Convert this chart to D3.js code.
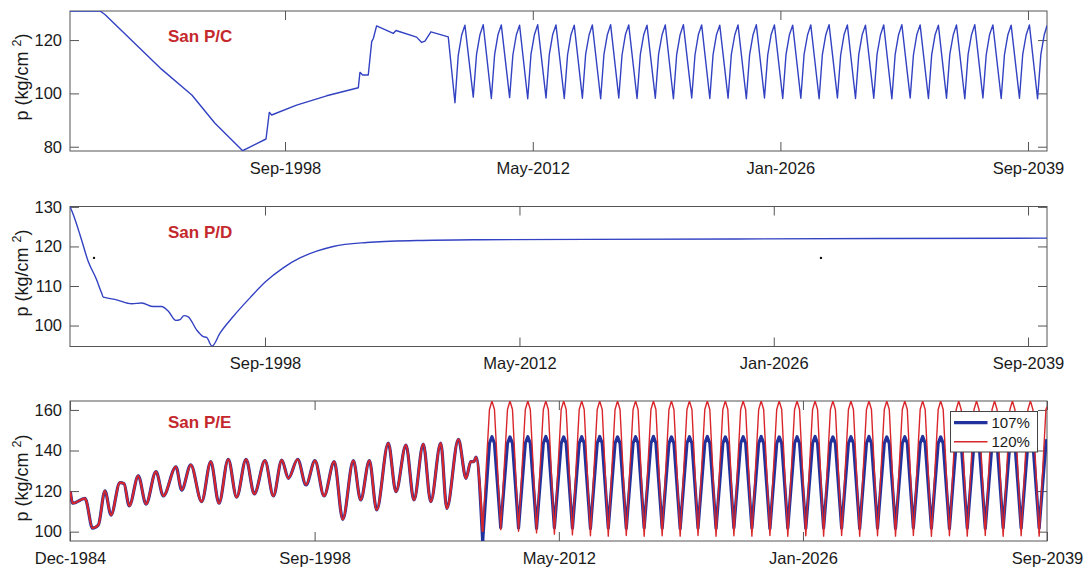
<!DOCTYPE html>
<html>
<head>
<meta charset="utf-8">
<script src="https://cdn.jsdelivr.net/npm/d3@7"></script>
<style>
  body { margin: 0; background: #fff; }
  svg { display: block; }
  text { font-family: "Liberation Sans", Arial, Helvetica, sans-serif; }
</style>
</head>
<body>
<svg id="chart" width="1086" height="569"></svg>
<script>
// ---- data (dates as decimal years, pressure in kg/cm2) ----
const tickYears = [1984.96, 1998.67, 2012.36, 2026.04, 2039.72];
const panelTitles = ["San P/C", "San P/D", "San P/E"];
const legendLabels = ["107%", "120%"];
const yTicksC = [80, 100, 120];
const yTicksD = [100, 110, 120, 130];
const yTicksE = [100, 120, 140, 160];

// San P/C
const datesC = [
  1986.79, 1988.45, 1988.72, 1991.86, 1993.52, 1994.80, 1996.33,
  1997.62, 1997.80, 1997.93, 1999.31, 2000.97, 2002.72,
  2002.81, 2002.96, 2003.27, 2003.46, 2003.55, 2003.73,
  2004.65, 2004.80, 2005.94, 2006.22, 2006.40, 2006.73, 2007.69,
  2008.06, 2008.24, 2008.43, 2008.61,
  2009.07, 2009.25, 2009.44, 2009.62,
  2010.07, 2010.25, 2010.44, 2010.62,
  2011.08, 2011.26, 2011.45, 2011.63,
  2012.08, 2012.26, 2012.45, 2012.63,
  2013.09, 2013.27, 2013.46, 2013.64,
  2014.10, 2014.28, 2014.47, 2014.65,
  2015.10, 2015.28, 2015.47, 2015.65,
  2016.11, 2016.29, 2016.48, 2016.66,
  2017.11, 2017.29, 2017.48, 2017.66,
  2018.12, 2018.30, 2018.49, 2018.67,
  2019.13, 2019.31, 2019.50, 2019.68,
  2020.13, 2020.31, 2020.50, 2020.68,
  2021.14, 2021.32, 2021.51, 2021.69,
  2022.14, 2022.32, 2022.51, 2022.69,
  2023.15, 2023.33, 2023.52, 2023.70,
  2024.16, 2024.34, 2024.53, 2024.71,
  2025.16, 2025.34, 2025.53, 2025.71,
  2026.17, 2026.35, 2026.54, 2026.72,
  2027.17, 2027.35, 2027.54, 2027.72,
  2028.18, 2028.36, 2028.55, 2028.73,
  2029.19, 2029.37, 2029.56, 2029.74,
  2030.19, 2030.37, 2030.56, 2030.74,
  2031.20, 2031.38, 2031.57, 2031.75,
  2032.20, 2032.38, 2032.57, 2032.75,
  2033.21, 2033.39, 2033.58, 2033.76,
  2034.22, 2034.40, 2034.59, 2034.77,
  2035.22, 2035.40, 2035.59, 2035.77,
  2036.23, 2036.41, 2036.60, 2036.78,
  2037.23, 2037.41, 2037.60, 2037.78,
  2038.24, 2038.42, 2038.61, 2038.79,
  2039.25, 2039.43, 2039.62, 2039.80,
  2040.25, 2040.43, 2040.62, 2040.77
];
const valuesC = [
  130.9, 130.9, 129.6, 109.0, 99.4, 88.8, 78.5,
  82.9, 92.9, 91.9, 95.6, 99.1, 102.1,
  107.9, 106.9, 106.9, 119.4, 120.6, 125.3,
  122.5, 123.6, 121.1, 119.1, 119.6, 123.1, 121.2,
  96.5, 114.2, 121.9, 125.6,
  98.6, 114.6, 122.0, 125.8,
  98.1, 114.5, 122.1, 125.7,
  98.4, 114.4, 121.9, 125.6,
  98.0, 114.6, 122.0, 125.8,
  98.3, 114.5, 122.1, 125.7,
  98.1, 114.4, 122.0, 125.6,
  98.2, 114.6, 121.9, 125.7,
  98.0, 114.5, 122.0, 125.8,
  98.3, 114.4, 122.1, 125.7,
  98.1, 114.5, 122.0, 125.6,
  98.2, 114.6, 121.9, 125.7,
  98.0, 114.5, 122.0, 125.8,
  98.3, 114.4, 122.1, 125.7,
  98.1, 114.5, 122.0, 125.6,
  98.2, 114.6, 121.9, 125.7,
  98.0, 114.5, 122.0, 125.8,
  98.3, 114.4, 122.1, 125.7,
  98.1, 114.5, 122.0, 125.6,
  98.2, 114.6, 121.9, 125.7,
  98.0, 114.5, 122.0, 125.8,
  98.3, 114.4, 122.1, 125.7,
  98.1, 114.5, 122.0, 125.6,
  98.2, 114.6, 121.9, 125.7,
  98.0, 114.5, 122.0, 125.8,
  98.3, 114.4, 122.1, 125.7,
  98.1, 114.5, 122.0, 125.6,
  98.2, 114.6, 121.9, 125.7,
  98.0, 114.5, 122.0, 125.8,
  98.3, 114.4, 122.1, 125.7,
  98.1, 114.5, 122.0, 125.6,
  98.2, 114.6, 121.9, 125.7,
  98.0, 114.5, 122.0, 125.5
];

// San P/D
const datesD = [
  1988.18, 1988.36, 1988.72, 1989.16, 1989.61, 1989.88, 1989.97,
  1990.15, 1990.69, 1991.50, 1992.04, 1992.66, 1993.11, 1993.47,
  1993.87, 1994.10, 1994.31, 1994.54, 1994.99, 1995.35, 1995.53,
  1995.82, 1996.25, 1996.96, 1997.86, 1998.68, 1999.65, 2000.55,
  2001.45, 2002.34, 2004.14, 2006.83, 2010.23, 2016.00, 2024.00,
  2032.00, 2040.74
];
const valuesD = [
  130.1, 128.0, 122.9, 116.2, 111.6, 108.2, 107.2,
  107.0, 106.5, 105.5, 105.7, 104.8, 104.8, 103.6,
  101.3, 101.5, 102.5, 102.2, 98.9, 97.2, 97.0,
  94.8, 98.1, 102.3, 107.0, 111.0, 114.6, 117.1,
  118.8, 120.0, 121.0, 121.5, 121.7, 121.8, 121.9,
  122.0, 122.1
];
const markerDatesD = [1989.47, 2028.58];
const markerValuesD = [117.1, 117.1];

// San P/E: common history, then the two scenarios
const historyDatesE = [
  1984.98, 1985.11, 1985.80, 1985.86, 1986.22, 1986.55, 1986.92, 1987.26,
  1987.76, 1987.99, 1988.28, 1988.79, 1989.22, 1989.78, 1990.19, 1990.90,
  1991.22, 1991.73, 1992.34, 1992.85, 1993.31, 1993.83, 1994.30, 1994.83,
  1995.29, 1995.89, 1996.36, 1996.83, 1997.20, 1997.72, 1998.19, 1998.69,
  1999.20, 1999.77, 2000.25, 2000.84, 2001.25, 2001.74, 2002.15, 2002.80,
  2003.23, 2003.79, 2004.24, 2004.76, 2005.18, 2005.74, 2006.08, 2006.73,
  2007.16, 2007.42, 2007.60, 2007.72
];
const historyValuesE = [
  119.7, 114.0, 116.4, 115.5, 101.7, 103.3, 120.1, 108.2,
  124.2, 123.7, 112.7, 127.5, 113.6, 129.6, 117.6, 132.0,
  120.5, 132.9, 114.8, 134.5, 114.0, 135.7, 117.0, 135.7,
  118.6, 135.0, 117.6, 135.3, 126.3, 135.7, 123.0, 135.0,
  117.6, 134.5, 106.1, 135.0, 115.6, 135.0, 110.7, 143.6,
  119.7, 142.7, 115.6, 143.2, 114.8, 143.6, 111.5, 145.5,
  126.3, 134.5, 134.5, 136.8
];
const projDatesE = [
  2008.09, 2008.47, 2008.61, 2008.75,
  2009.10, 2009.48, 2009.62, 2009.76,
  2010.10, 2010.48, 2010.62, 2010.76,
  2011.11, 2011.49, 2011.63, 2011.77,
  2012.11, 2012.49, 2012.63, 2012.77,
  2013.12, 2013.50, 2013.64, 2013.78,
  2014.13, 2014.51, 2014.65, 2014.79,
  2015.13, 2015.51, 2015.65, 2015.79,
  2016.14, 2016.52, 2016.66, 2016.80,
  2017.14, 2017.52, 2017.66, 2017.80,
  2018.15, 2018.53, 2018.67, 2018.81,
  2019.16, 2019.54, 2019.68, 2019.82,
  2020.16, 2020.54, 2020.68, 2020.82,
  2021.17, 2021.55, 2021.69, 2021.83,
  2022.17, 2022.55, 2022.69, 2022.83,
  2023.18, 2023.56, 2023.70, 2023.84,
  2024.19, 2024.57, 2024.71, 2024.85,
  2025.19, 2025.57, 2025.71, 2025.85,
  2026.20, 2026.58, 2026.72, 2026.86,
  2027.20, 2027.58, 2027.72, 2027.86,
  2028.21, 2028.59, 2028.73, 2028.87,
  2029.22, 2029.60, 2029.74, 2029.88,
  2030.22, 2030.60, 2030.74, 2030.88,
  2031.23, 2031.61, 2031.75, 2031.89,
  2032.23, 2032.61, 2032.75, 2032.89,
  2033.24, 2033.62, 2033.76, 2033.90,
  2034.25, 2034.63, 2034.77, 2034.91,
  2035.25, 2035.63, 2035.77, 2035.91,
  2036.26, 2036.64, 2036.78, 2036.92,
  2037.26, 2037.64, 2037.78, 2037.92,
  2038.27, 2038.65, 2038.79, 2038.93,
  2039.28, 2039.66, 2039.72
];
const projValues107 = [
  95.4, 143.6, 146.8, 143.6,
  102.0, 143.5, 146.7, 143.5,
  101.8, 143.6, 146.8, 143.6,
  101.6, 143.6, 146.9, 143.6,
  101.9, 143.5, 146.7, 143.5,
  101.7, 143.6, 146.8, 143.6,
  101.5, 143.6, 146.9, 143.6,
  101.8, 143.5, 146.7, 143.5,
  101.6, 143.6, 146.8, 143.6,
  101.9, 143.6, 146.9, 143.6,
  101.7, 143.5, 146.7, 143.5,
  101.5, 143.6, 146.8, 143.6,
  101.8, 143.6, 146.9, 143.6,
  101.6, 143.5, 146.7, 143.5,
  101.9, 143.6, 146.8, 143.6,
  101.7, 143.6, 146.9, 143.6,
  101.5, 143.5, 146.7, 143.5,
  101.8, 143.6, 146.8, 143.6,
  101.6, 143.6, 146.9, 143.6,
  101.9, 143.5, 146.7, 143.5,
  101.7, 143.6, 146.8, 143.6,
  101.5, 143.6, 146.9, 143.6,
  101.8, 143.5, 146.7, 143.5,
  101.6, 143.6, 146.8, 143.6,
  101.9, 143.6, 146.9, 143.6,
  101.7, 143.5, 146.7, 143.5,
  101.5, 143.6, 146.8, 143.6,
  101.8, 143.6, 146.9, 143.6,
  101.6, 143.5, 146.7, 143.5,
  101.9, 143.6, 146.8, 143.6,
  101.7, 143.6, 146.9, 143.6,
  101.8, 143.6, 145.6
];
const projValues120 = [
  100.0, 160.2, 164.4, 160.2,
  101.0, 160.2, 164.4, 160.2,
  100.2, 160.2, 164.4, 160.2,
  99.4, 160.2, 164.4, 160.2,
  98.8, 160.2, 164.4, 160.2,
  98.4, 160.2, 164.4, 160.2,
  98.0, 160.2, 164.4, 160.2,
  97.8, 160.2, 164.4, 160.2,
  98.1, 160.2, 164.4, 160.2,
  97.7, 160.2, 164.4, 160.2,
  98.0, 160.2, 164.4, 160.2,
  97.8, 160.2, 164.4, 160.2,
  98.1, 160.2, 164.4, 160.2,
  97.7, 160.2, 164.4, 160.2,
  98.0, 160.2, 164.4, 160.2,
  97.8, 160.2, 164.4, 160.2,
  98.1, 160.2, 164.4, 160.2,
  97.7, 160.2, 164.4, 160.2,
  98.0, 160.2, 164.4, 160.2,
  97.8, 160.2, 164.4, 160.2,
  98.1, 160.2, 164.4, 160.2,
  97.7, 160.2, 164.4, 160.2,
  98.0, 160.2, 164.4, 160.2,
  97.8, 160.2, 164.4, 160.2,
  98.1, 160.2, 164.4, 160.2,
  97.7, 160.2, 164.4, 160.2,
  98.0, 160.2, 164.4, 160.2,
  97.8, 160.2, 164.4, 160.2,
  98.1, 160.2, 164.4, 160.2,
  97.7, 160.2, 164.4, 160.2,
  98.0, 160.2, 164.4, 160.2,
  97.8, 160.2, 161.5
];

// ---- helpers ----
function toDate(y) {
  const yr = Math.floor(y);
  const a = Date.UTC(yr, 0, 1), b = Date.UTC(yr + 1, 0, 1);
  return new Date(a + (y - yr) * (b - a));
}
const zip = (ds, vs) => ds.map((d, i) => ({ date: toDate(d), value: vs[i] }));

// ---- layout ----
const LEFT = 70, RIGHT = 1047, TICK = 9;
const colors = {
  line: "#3242c2", s107: "#22329c", s120: "#d9262b",
  title: "#c4282c", axis: "#555", text: "#1a1a1a"
};

const panels = [
  { top: 11, bottom: 151, xDomain: [1986.79, 2040.77], yDomain: [78.4, 130.9],
    yTicks: yTicksC, title: panelTitles[0], titleY: 42, labelY: 77 },
  { top: 206.5, bottom: 346.5, xDomain: [1988.18, 2040.74], yDomain: [94.7, 130.1],
    yTicks: yTicksD, title: panelTitles[1], titleY: 237.5, labelY: 273 },
  { top: 401, bottom: 541, xDomain: [1984.96, 2039.72], yDomain: [95.4, 164.4],
    yTicks: yTicksE, title: panelTitles[2], titleY: 428, labelY: 478 }
];

const svg = d3.select("#chart");
const fmt = d3.utcFormat("%b-%Y");

function styleAxis(g, showText) {
  g.select(".domain").remove();
  g.selectAll(".tick line").attr("stroke", colors.axis).attr("stroke-width", 1);
  g.attr("font-size", 16.5).attr("font-family", null);
  g.selectAll(".tick text").attr("fill", colors.text);
  if (!showText) g.selectAll(".tick text").remove();
}

panels.forEach((p, i) => {
  const g = svg.append("g");
  const x = d3.scaleUtc().domain(p.xDomain.map(toDate)).range([LEFT, RIGHT]);
  const y = d3.scaleLinear().domain(p.yDomain).range([p.bottom, p.top]);
  p.x = x; p.y = y;

  const clipId = "clip" + i;
  svg.append("clipPath").attr("id", clipId)
    .append("rect").attr("x", LEFT).attr("y", p.top)
    .attr("width", RIGHT - LEFT).attr("height", p.bottom - p.top);

  const [d0, d1] = x.domain();
  const ticks = tickYears.map(toDate).filter(d => d >= d0 && d <= d1);

  // axes: ticks drawn inward on all four sides
  g.append("g").attr("transform", `translate(0,${p.bottom})`)
    .call(d3.axisBottom(x).tickValues(ticks).tickFormat(fmt).tickSize(-TICK).tickPadding(11))
    .call(a => styleAxis(a, true));
  g.append("g").attr("transform", `translate(0,${p.top})`)
    .call(d3.axisTop(x).tickValues(ticks).tickSize(-TICK))
    .call(a => styleAxis(a, false));
  g.append("g").attr("transform", `translate(${LEFT},0)`)
    .call(d3.axisLeft(y).tickValues(p.yTicks).tickSize(-TICK).tickPadding(8))
    .call(a => styleAxis(a, true));
  g.append("g").attr("transform", `translate(${RIGHT},0)`)
    .call(d3.axisRight(y).tickValues(p.yTicks).tickSize(-TICK))
    .call(a => styleAxis(a, false));

  // frame
  g.append("rect").attr("x", LEFT).attr("y", p.top)
    .attr("width", RIGHT - LEFT).attr("height", p.bottom - p.top)
    .attr("fill", "none").attr("stroke", colors.axis).attr("stroke-width", 1);

  p.plot = g.append("g").attr("clip-path", `url(#${clipId})`);

  // y label with superscript
  const lab = g.append("text")
    .attr("transform", `translate(28,${p.labelY}) rotate(-90)`)
    .attr("text-anchor", "middle").attr("font-size", 18).attr("fill", colors.text);
  lab.append("tspan").text("p (kg/cm ");
  lab.append("tspan").attr("dy", -7).attr("font-size", 12.5).text("2");
  lab.append("tspan").attr("dy", 7).text(")");

  // title
  g.append("text").attr("x", 168).attr("y", p.titleY)
    .attr("font-size", 17).attr("font-weight", "bold").attr("fill", colors.title)
    .text(p.title);
});

// San P/C
{
  const p = panels[0];
  const line = d3.line().x(d => p.x(d.date)).y(d => p.y(d.value));
  p.plot.append("path").datum(zip(datesC, valuesC))
    .attr("d", line).attr("fill", "none")
    .attr("stroke", colors.line).attr("stroke-width", 1.4).attr("stroke-linejoin", "round");
}

// San P/D
{
  const p = panels[1];
  const line = d3.line().curve(d3.curveMonotoneX).x(d => p.x(d.date)).y(d => p.y(d.value));
  p.plot.append("path").datum(zip(datesD, valuesD))
    .attr("d", line).attr("fill", "none")
    .attr("stroke", colors.line).attr("stroke-width", 1.4);
  p.plot.selectAll("circle.marker").data(zip(markerDatesD, markerValuesD))
    .join("circle").attr("class", "marker")
    .attr("cx", d => p.x(d.date)).attr("cy", d => p.y(d.value))
    .attr("r", 1.2).attr("fill", "#111");
}

// San P/E
{
  const p = panels[2];
  const smooth = d3.line().curve(d3.curveMonotoneX).x(d => p.x(d.date)).y(d => p.y(d.value));
  const straight = d3.line().x(d => p.x(d.date)).y(d => p.y(d.value));
  const hist = zip(historyDatesE, historyValuesE);
  const scenarios = [
    { vals: projValues107, color: colors.s107, width: 3.2, histWidth: 3.2 },
    { vals: projValues120, color: colors.s120, width: 1.4, histWidth: 2.2 }
  ];
  scenarios.forEach(s => {
    const proj = zip(projDatesE, s.vals);
    p.plot.append("path").datum(hist.concat([proj[0]]))
      .attr("d", smooth).attr("fill", "none")
      .attr("stroke", s.color).attr("stroke-width", s.histWidth).attr("stroke-linejoin", "round");
    p.plot.append("path").datum(proj)
      .attr("d", straight).attr("fill", "none")
      .attr("stroke", s.color).attr("stroke-width", s.width).attr("stroke-linejoin", "round");
  });

  // legend
  const lg = svg.append("g").attr("transform", "translate(950.5,411.5)");
  lg.append("rect").attr("width", 87).attr("height", 40.5)
    .attr("fill", "#fff").attr("stroke", "#444").attr("stroke-width", 1);
  scenarios.forEach((s, i) => {
    const yy = 11.2 + i * 19;
    lg.append("line").attr("x1", 3.5).attr("x2", 37).attr("y1", yy).attr("y2", yy)
      .attr("stroke", s.color).attr("stroke-width", s.width);
    lg.append("text").attr("x", 41).attr("y", yy + 5.5)
      .attr("font-size", 15).attr("fill", colors.text).text(legendLabels[i]);
  });
}
</script>
</body>
</html>
